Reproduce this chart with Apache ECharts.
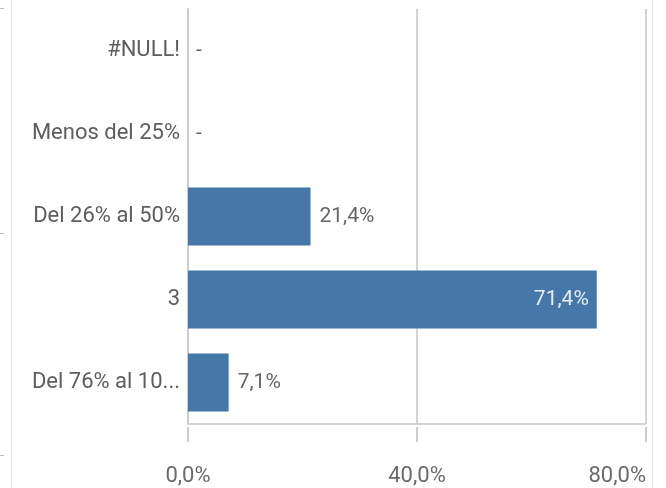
<!DOCTYPE html>
<html>
<head>
<meta charset="utf-8">
<script src="https://cdn.jsdelivr.net/npm/echarts@6/dist/echarts.min.js"></script>
<style>
  html, body { margin: 0; padding: 0; background: #fff; }
  #chart { width: 666px; height: 488px; }
</style>
</head>
<body>
<div id="chart"></div>
<script>
// Share of respondents per answer (percent)
const categories = ['#NULL!', 'Menos del 25%', 'Del 26% al 50%', '3', 'Del 76% al 10...'];
const shares = [0, 0, 21.4, 71.4, 7.1];
const axisTicks = [0, 40, 80];

const FONT = 'Roboto';
const fmtPct = v => v.toFixed(1).replace('.', ',') + '%';

const chart = echarts.init(document.getElementById('chart'), null, { renderer: 'canvas' });

const barData = shares.map(v => {
  const inside = v > 50;
  return {
    value: v,
    label: inside
      ? { position: 'insideRight', color: '#e6edf5', distance: 8 }
      : { position: 'right', color: '#666666', distance: v === 0 ? 8 : 9 }
  };
});

chart.setOption({
  animation: false,
  backgroundColor: '#ffffff',
  textStyle: { fontFamily: FONT },
  grid: { left: 188, right: 20, top: 9, bottom: 64, containLabel: false, show: false },
  xAxis: {
    type: 'value',
    min: axisTicks[0],
    max: axisTicks[axisTicks.length - 1],
    interval: axisTicks[1] - axisTicks[0],
    offset: 3,
    axisLine: { show: false },
    axisTick: { show: true, length: 15, lineStyle: { color: '#cccccc', width: 2 } },
    splitLine: { show: true, lineStyle: { color: '#d4d4d4', width: 2 } },
    axisLabel: {
      margin: 38,
      fontFamily: FONT,
      fontSize: 22,
      color: '#6b6b6b',
      alignMaxLabel: 'right',
      formatter: v => fmtPct(v)
    }
  },
  yAxis: {
    type: 'category',
    data: categories,
    inverse: true,
    axisLine: { show: true, lineStyle: { color: '#cccccc', width: 2 } },
    axisTick: { show: false },
    splitLine: { show: false },
    axisLabel: {
      margin: 8,
      fontFamily: FONT,
      fontSize: 22,
      color: '#5e5e5e'
    }
  },
  series: [{
    type: 'bar',
    data: barData,
    barCategoryGap: '30%',
    itemStyle: { color: '#4577a8' },
    label: {
      show: true,
      fontFamily: FONT,
      fontSize: 21,
      formatter: p => (p.value === 0 ? '-' : fmtPct(p.value))
    },
    markLine: {
      silent: true,
      symbol: 'none',
      label: { show: false },
      lineStyle: { color: '#d4d4d4', width: 2, type: 'solid' },
      data: [[{ coord: [0, categories[categories.length - 1]], y: 424 },
              { coord: [80, categories[categories.length - 1]], y: 424 }]]
    }
  }],
  graphic: [
    { type: 'line', shape: { x1: 11.5, y1: 0, x2: 11.5, y2: 488 },
      style: { stroke: '#e6e6e6', lineWidth: 1 } },
    { type: 'line', shape: { x1: 652.5, y1: 0, x2: 652.5, y2: 488 },
      style: { stroke: '#e6e6e6', lineWidth: 1 } },
    { type: 'line', shape: { x1: 0, y1: 8.5, x2: 4, y2: 8.5 },
      style: { stroke: '#bfbfbf', lineWidth: 1 } },
    { type: 'line', shape: { x1: 0, y1: 233.5, x2: 4, y2: 233.5 },
      style: { stroke: '#bfbfbf', lineWidth: 1 } },
    { type: 'line', shape: { x1: 0, y1: 455.5, x2: 4, y2: 455.5 },
      style: { stroke: '#bfbfbf', lineWidth: 1 } }
  ]
});
</script>
</body>
</html>
